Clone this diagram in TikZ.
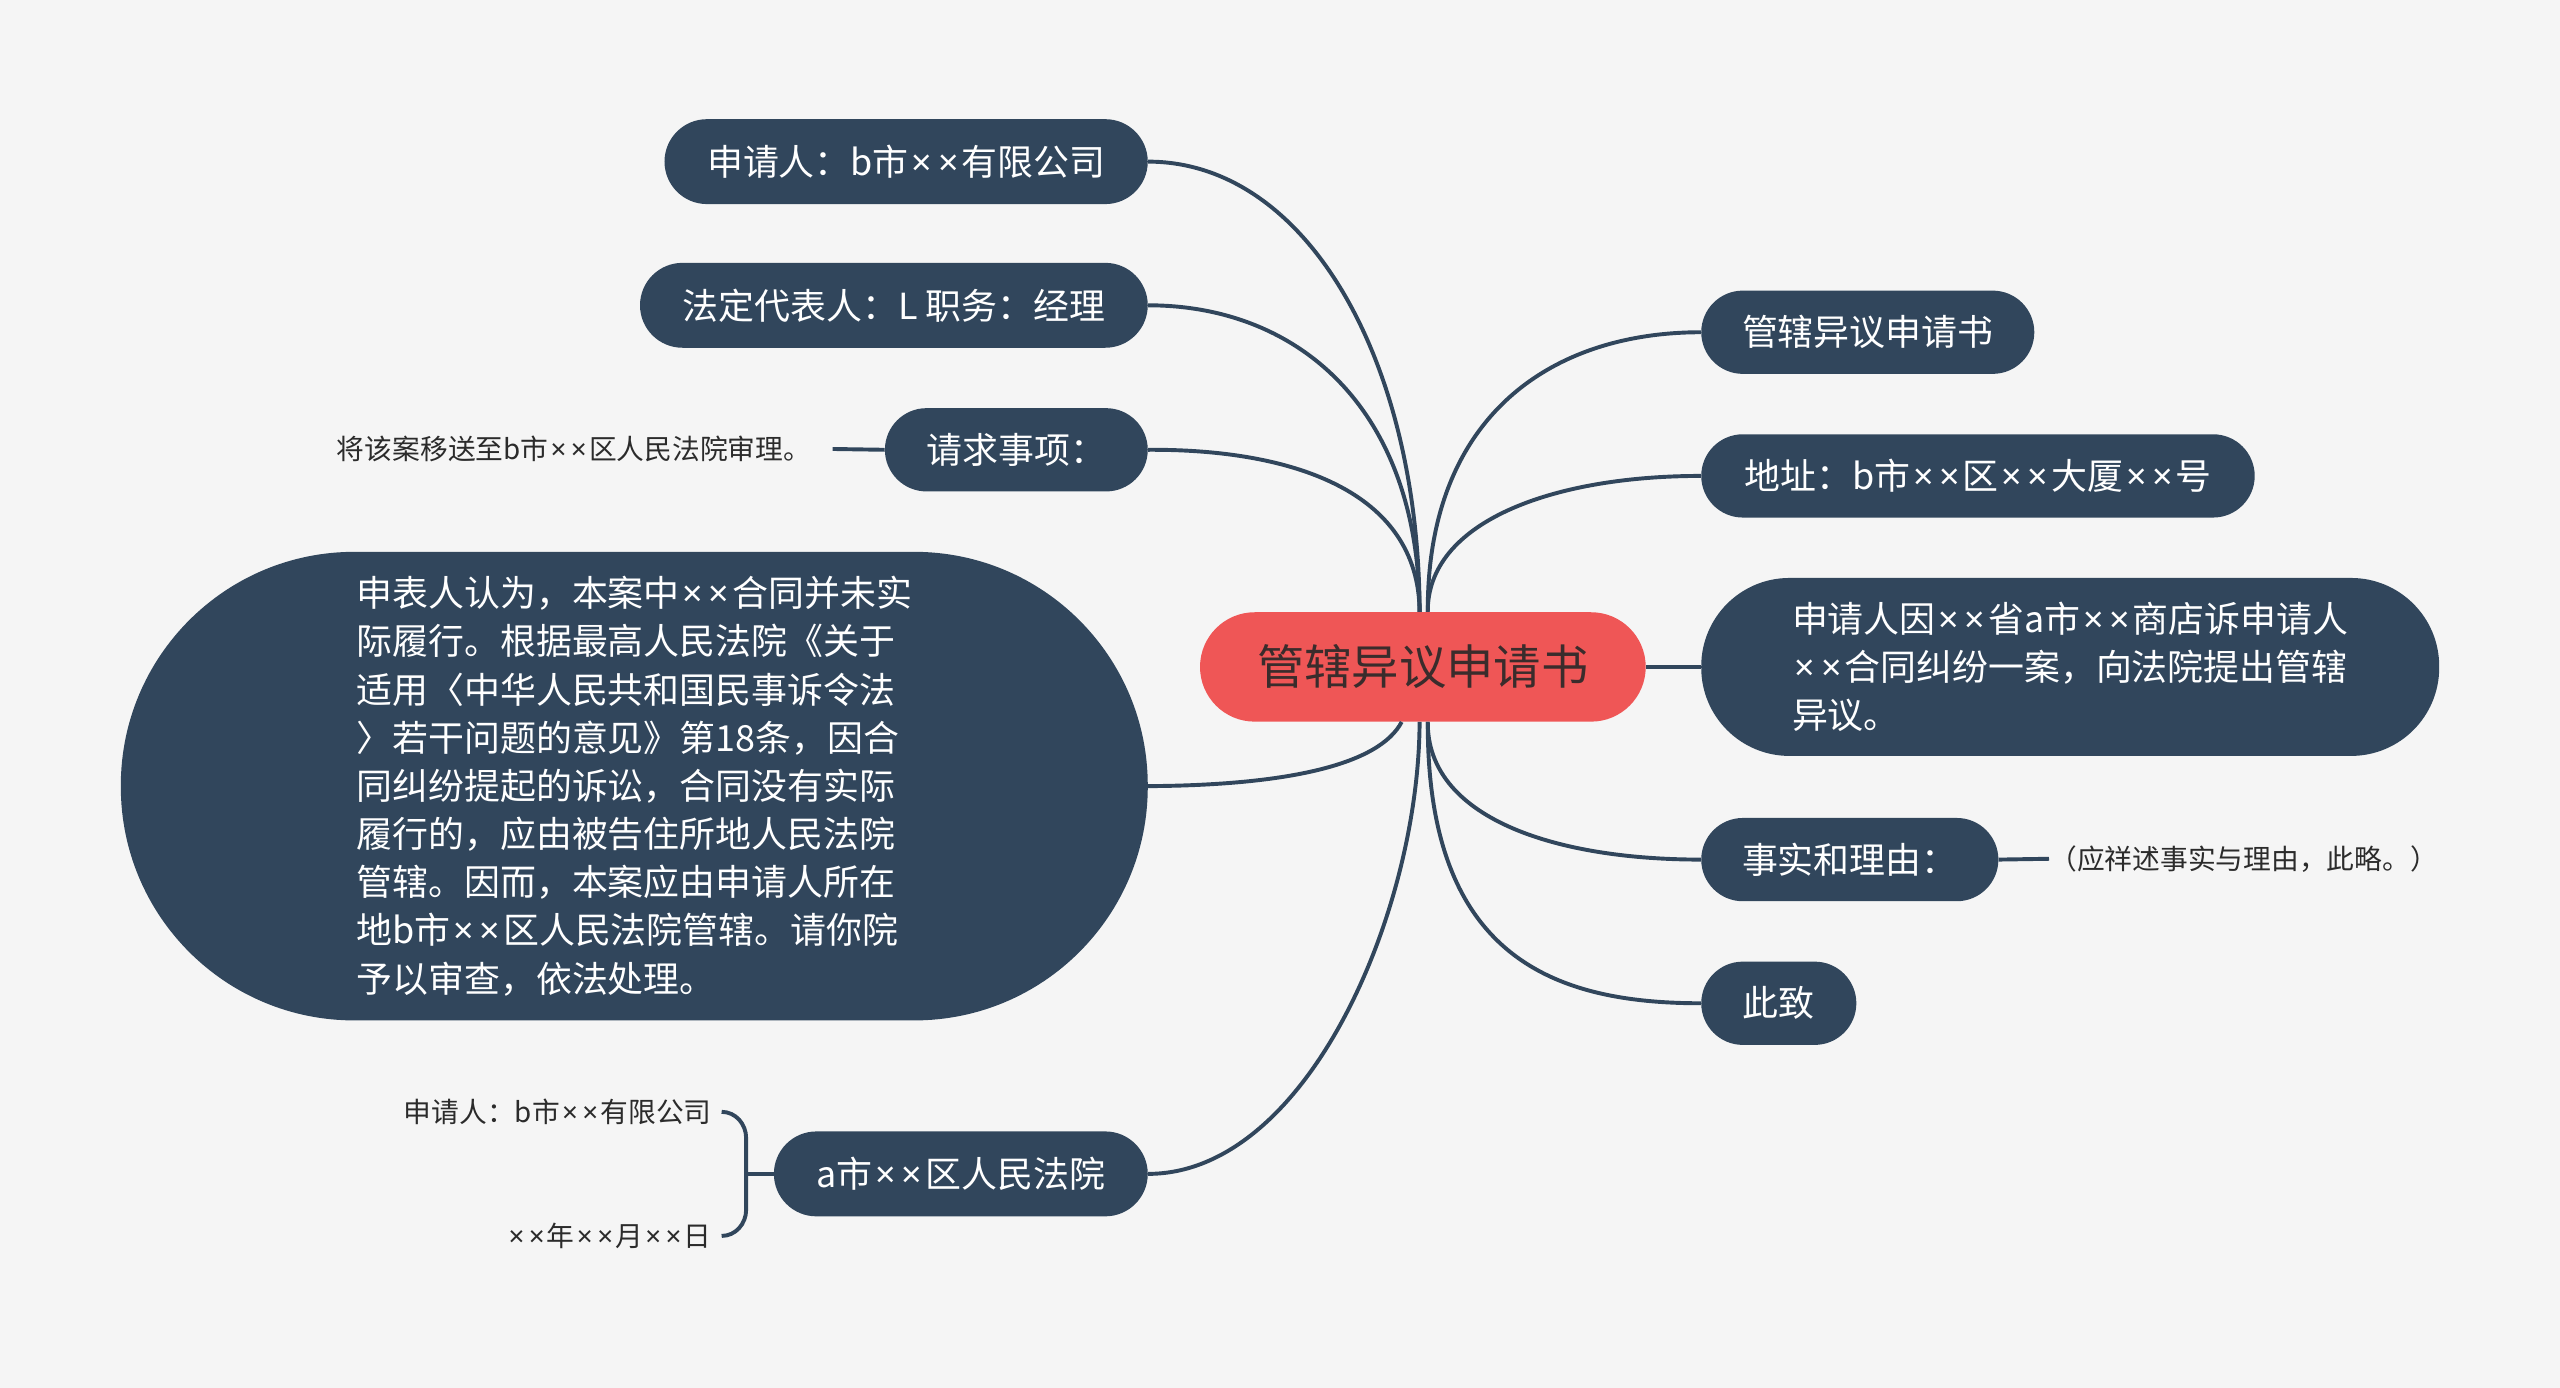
\documentclass[tikz,border=0pt]{standalone}
\usepackage{fontspec}
\setmainfont{Noto Sans CJK SC}
\newfontfamily\latfont{Noto Sans}
\newcommand{\xx}{{\latfont\hspace{0.08em}×\hspace{0.08em}}}
\definecolor{bg}{HTML}{F5F5F5}
\definecolor{navy}{HTML}{31465C}
\definecolor{redc}{HTML}{EF5656}
\definecolor{ctext}{HTML}{3A2C2C}
\definecolor{stext}{HTML}{2B2B2B}
\begin{document}
\begin{tikzpicture}[x=1pt,y=-1pt,
  box/.style n args={3}{minimum width=#1pt, minimum height=#2pt, rounded corners=#3pt},
  topic/.style={fill=navy, text=white, inner sep=0pt, align=left, font=\fontsize{22}{29.5}\selectfont},
  central/.style={fill=redc, text=ctext, inner sep=0pt, font=\fontsize{29}{34}\selectfont},
  small/.style={text=stext, inner sep=0pt, font=\fontsize{17}{20}\selectfont},
  conn/.style={draw=navy, line width=2.4pt}]
\useasboundingbox (0,0) rectangle (1568,850);
\fill[bg] (0,0) rectangle (1568,850);

% central
\node[central, box={273}{67}{33.5}] (C) at (871.5,408.5) {管辖异议申请书};

% left
\node[topic, box={296}{52}{26}] (L1) at (555,99) {申请人：b市\xx\xx 有限公司};
\node[topic, box={311}{52}{26}] (L2) at (547.5,187) {法定代表人：L 职务：经理};
\node[topic, box={161}{51}{25.5}] (L3) at (622.5,275.5) {请求事项：};
\node[topic, box={629}{287}{143}] (L4) at (388.5,481.5) {申表人认为，本案中\xx\xx 合同并未实\\
际履行。根据最高人民法院《关于\\
适用〈中华人民共和国民事诉令法\\
〉若干问题的意见》第18条，因合\\
同纠纷提起的诉讼，合同没有实际\\
履行的，应由被告住所地人民法院\\
管辖。因而，本案应由申请人所在\\
地b市\xx\xx 区人民法院管辖。请你院\\
予以审查，依法处理。};
\node[topic, box={229}{52}{26}] (L5) at (588.5,719) {a市\xx\xx 区人民法院};

% right
\node[topic, box={204}{51}{25.5}] (R1) at (1144,203.5) {管辖异议申请书};
\node[topic, box={339}{51}{25.5}] (R2) at (1211.5,291.5) {地址：b市\xx\xx 区\xx\xx 大厦\xx\xx 号};
\node[topic, box={452}{109}{54}] (R3) at (1268,408.5) {申请人因\xx\xx 省a市\xx\xx 商店诉申请人\\
\xx\xx 合同纠纷一案，向法院提出管辖\\
异议。};
\node[topic, box={182}{51}{25.5}] (R4) at (1133,526.5) {事实和理由：};
\node[topic, box={95}{51}{25.5}] (R5) at (1089.5,614.5) {此致};

% small children
\node[small, anchor=east] (L3a) at (497,275) {将该案移送至b市\xx\xx 区人民法院审理。};
\node[small, anchor=west] (R4a) at (1255,526) {（应祥述事实与理由，此略。）};
\node[small, anchor=east] (B1) at (436,681) {申请人：b市\xx\xx 有限公司};
\node[small, anchor=east] (B2) at (436,757) {\xx\xx 年\xx\xx 月\xx\xx 日};
\coordinate (brk) at (457,719);

% connectors left
\draw[conn] (L1.east) .. controls (800,99) and (869,220) .. ([xshift=-2pt]C.north);
\draw[conn] (L2.east) .. controls (795,187) and (869,250) .. ([xshift=-2pt]C.north);
\draw[conn] (L3.east) .. controls (790,275) and (869,300) .. ([xshift=-2pt]C.north);
\draw[conn] (L4.east) .. controls (790,481) and (845,468) .. ([xshift=-13pt]C.south);
\draw[conn] (L5.east) .. controls (800,719) and (869,560) .. ([xshift=-2pt]C.south);
% connectors right
\draw[conn] ([xshift=3pt]C.north) .. controls (874,255) and (950,203.5) .. (R1.west);
\draw[conn] ([xshift=3pt]C.north) .. controls (874,320) and (950,291.5) .. (R2.west);
\draw[conn] (C.east) -- (R3.west);
\draw[conn] ([xshift=3pt]C.south) .. controls (874,500) and (950,526.5) .. (R4.west);
\draw[conn] ([xshift=3pt]C.south) .. controls (874,585) and (950,614.5) .. (R5.west);
% children connectors
\draw[conn] ([xshift=13pt]L3a.east) -- (L3.west);
\draw[conn] (R4.east) -- (R4a.west);
\draw[conn] ([xshift=6pt]B1.east) to[out=0,in=90] (brk |- 0,697) -- (brk |- 0,741) to[out=-90,in=0] ([xshift=6pt]B2.east);
\draw[conn] (brk) -- (L5.west);
\end{tikzpicture}
\end{document}
